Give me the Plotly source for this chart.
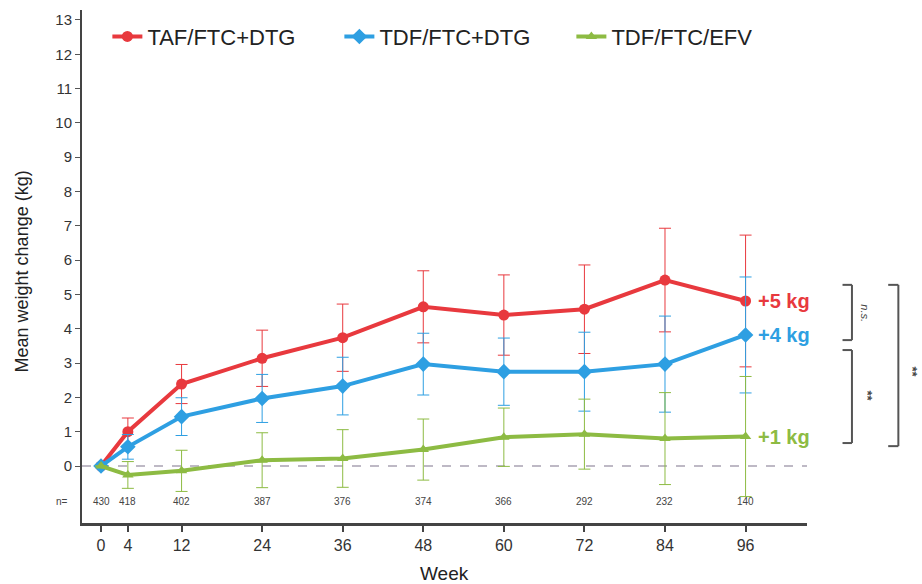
import plotly.graph_objects as go

# Study weeks and numbers of participants at each visit
weeks = [0, 4, 12, 24, 36, 48, 60, 72, 84, 96]
n_at_risk = [430, 418, 402, 387, 376, 374, 366, 292, 232, 140]

# Mean weight change (kg) and error-bar half widths per regimen
taf_ftc_dtg = [0, 1.0, 2.39, 3.14, 3.74, 4.64, 4.40, 4.57, 5.42, 4.81]
taf_ftc_dtg_err = [0, 0.4, 0.57, 0.82, 0.98, 1.05, 1.17, 1.29, 1.51, 1.92]

tdf_ftc_dtg = [0, 0.56, 1.44, 1.97, 2.33, 2.97, 2.75, 2.75, 2.97, 3.82]
tdf_ftc_dtg_err = [0, 0.36, 0.55, 0.7, 0.84, 0.9, 0.98, 1.15, 1.4, 1.69]

tdf_ftc_efv = [0, -0.26, -0.14, 0.17, 0.22, 0.48, 0.84, 0.93, 0.8, 0.86]
tdf_ftc_efv_err = [0, 0.39, 0.6, 0.8, 0.84, 0.89, 0.85, 1.02, 1.34, 1.75]

series_names = ["TAF/FTC+DTG", "TDF/FTC+DTG", "TDF/FTC/EFV"]
end_labels = ["+5 kg", "+4 kg", "+1 kg"]

colors = ["#e8393e", "#2e9fe2", "#8dbb43"]
symbols = ["circle", "diamond", "triangle-up"]
msizes = [11, 12, 10]

FONT = "Liberation Sans, Arial, sans-serif"

fig = go.Figure()
for name, y, err, col, sym, ms in zip(
    series_names,
    [taf_ftc_dtg, tdf_ftc_dtg, tdf_ftc_efv],
    [taf_ftc_dtg_err, tdf_ftc_dtg_err, tdf_ftc_efv_err],
    colors, symbols, msizes,
):
    fig.add_trace(go.Scatter(
        x=weeks, y=y, name=name, mode="lines+markers",
        line=dict(color=col, width=4),
        marker=dict(color=col, symbol=sym, size=ms),
        error_y=dict(type="data", array=err, visible=True,
                     color=col, thickness=1, width=6),
        cliponaxis=False,
    ))

# Horizontal reference line at zero change
fig.add_shape(type="line", xref="paper", yref="y", x0=0, x1=1, y0=0, y1=0,
              line=dict(color="#a9a3b3", width=1.5, dash="dash"), layer="below")

annotations = []

# Participant counts under each visit
for wk, n in zip(weeks, n_at_risk):
    annotations.append(dict(x=wk, y=-1.03, xref="x", yref="y", text=str(n),
                            xanchor="center", showarrow=False,
                            font=dict(size=10, color="#444", family=FONT)))
annotations.append(dict(x=-0.027, y=-1.03, xref="paper", yref="y", text="n=",
                        xanchor="center", showarrow=False,
                        font=dict(size=10, color="#444", family=FONT)))

# End-of-study labels next to the last point of each series
for lab, col, y in zip(end_labels, colors, [taf_ftc_dtg, tdf_ftc_dtg, tdf_ftc_efv]):
    annotations.append(dict(x=0.929, y=y[-1], xref="paper", yref="y", text="<b>%s</b>" % lab,
                            xanchor="left", showarrow=False,
                            font=dict(size=20, color=col, family=FONT)))


# Significance brackets
def bracket(x_in, x_out, y_top, y_bot):
    style = dict(color="#555555", width=2)
    return [
        dict(type="line", xref="paper", yref="y", x0=x_in, x1=x_out, y0=y_top, y1=y_top, line=style),
        dict(type="line", xref="paper", yref="y", x0=x_out, x1=x_out, y0=y_top, y1=y_bot, line=style),
        dict(type="line", xref="paper", yref="y", x0=x_in, x1=x_out, y0=y_bot, y1=y_bot, line=style),
    ]


for shp in (bracket(1.049, 1.062, 5.28, 3.67)
            + bracket(1.049, 1.062, 3.38, 0.67)
            + bracket(1.112, 1.126, 5.28, 0.58)):
    fig.add_shape(**shp)

annotations.append(dict(x=1.080, y=4.45, xref="paper", yref="y", text="<i>n.s.</i>",
                        xanchor="center", textangle=90, showarrow=False,
                        font=dict(size=11, color="#444", family=FONT)))
annotations.append(dict(x=1.083, y=2.05, xref="paper", yref="y", text="<b>**</b>",
                        xanchor="center", textangle=90, showarrow=False,
                        font=dict(size=13, color="#444", family=FONT)))
annotations.append(dict(x=1.145, y=2.75, xref="paper", yref="y", text="<b>**</b>",
                        xanchor="center", textangle=90, showarrow=False,
                        font=dict(size=13, color="#444", family=FONT)))

# Axis titles
annotations.append(dict(x=-0.083, y=0.49, xref="paper", yref="paper",
                        text="Mean weight change (kg)", textangle=-90, showarrow=False,
                        xanchor="center", yanchor="middle",
                        font=dict(size=18, color="#222", family=FONT)))
annotations.append(dict(x=0.5, y=-0.0975, xref="paper", yref="paper",
                        text="Week", showarrow=False,
                        xanchor="center", yanchor="middle",
                        font=dict(size=19, color="#222", family=FONT)))

fig.update_layout(
    width=922, height=584,
    margin=dict(l=82, r=115, t=10, b=61, autoexpand=False),
    paper_bgcolor="white", plot_bgcolor="white",
    font=dict(family=FONT, color="#333"),
    showlegend=True,
    legend=dict(orientation="h", x=0.035, y=0.948, xanchor="left", yanchor="middle",
                font=dict(size=22, color="#222", family=FONT),
                bgcolor="rgba(0,0,0,0)", entrywidth=187, entrywidthmode="pixels"),
    xaxis=dict(
        range=[-2.83, 105.15], tickmode="array", tickvals=weeks,
        ticktext=[str(w) for w in weeks],
        showgrid=False, zeroline=False, automargin=False,
        showline=True, linecolor="#444", linewidth=3,
        ticks="outside", ticklen=6, tickcolor="#444", tickwidth=1.5,
        tickfont=dict(size=16, color="#333", family=FONT),
    ),
    yaxis=dict(
        range=[-1.66, 13.29], tickmode="array", tickvals=list(range(0, 14)),
        showgrid=False, zeroline=False, automargin=False,
        showline=True, linecolor="#444", linewidth=2,
        ticks="outside", ticklen=5, tickcolor="#555", tickwidth=1,
        tickfont=dict(size=15, color="#333", family=FONT),
    ),
    annotations=annotations,
)

fig.write_html("out.html")
